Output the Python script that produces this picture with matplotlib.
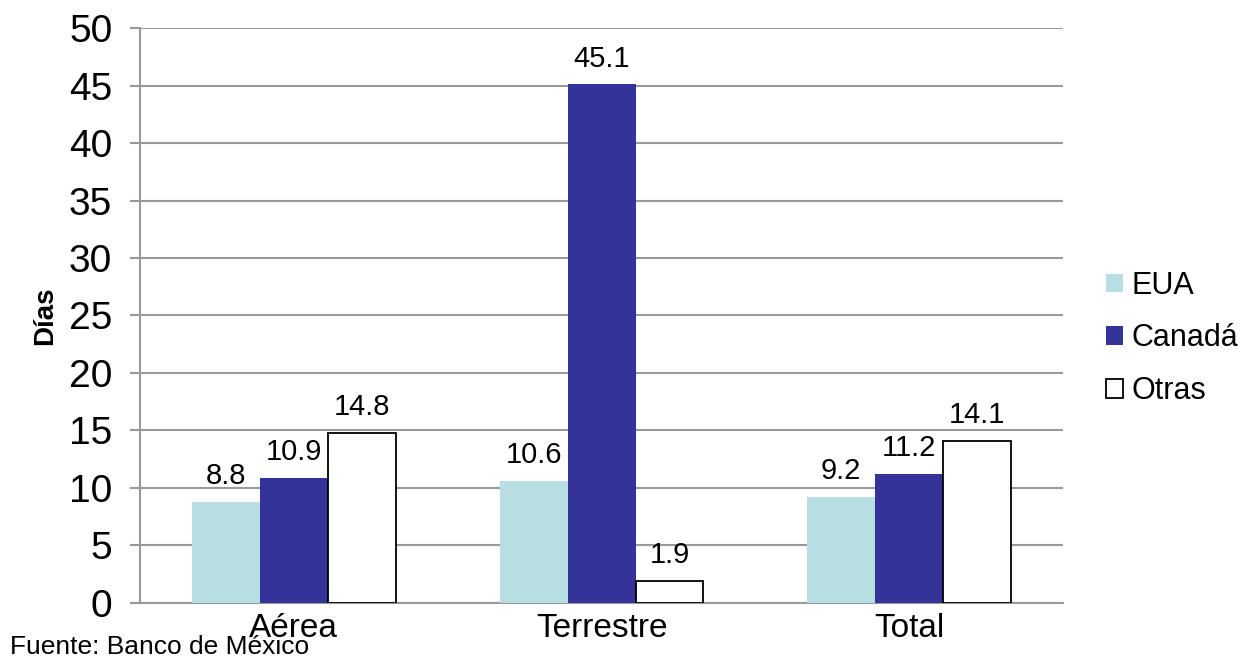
import numpy as np
import matplotlib.pyplot as plt

plt.rcParams['font.family'] = ['Liberation Sans', 'DejaVu Sans']

categorias = ["Aérea", "Terrestre", "Total"]
eua    = [8.8, 10.6, 9.2]
canada = [10.9, 45.1, 11.2]
otras  = [14.8, 1.9, 14.1]

GRID_COLOR = "#999999"

fig = plt.figure(figsize=(12.46, 6.64), dpi=100)
ax = fig.add_axes([0.1124, 0.0919, 0.7407, 0.8659])

x = np.arange(len(categorias))
w = 0.221

b1 = ax.bar(x - w, eua, w, color="#B7DFE3", label="EUA", zorder=3)
b2 = ax.bar(x, canada, w, color="#333399", label="Canadá", zorder=3)
b3 = ax.bar(x + w, otras, w, color="white", edgecolor="black", linewidth=1.3,
            label="Otras", zorder=3)

for bars in (b1, b2, b3):
    for b in bars:
        ax.text(b.get_x() + b.get_width() / 2, b.get_height() + 1.55,
                f"{b.get_height():.1f}", ha="center", va="baseline", fontsize=21)

ax.set_xlim(-0.5, 2.5)
ax.set_ylim(0, 50)
ax.set_yticks(range(0, 51, 5))
ax.yaxis.grid(True, color=GRID_COLOR, linewidth=1.5, zorder=0)
ax.set_axisbelow(True)

for s in ("top", "right"):
    ax.spines[s].set_visible(False)
ax.spines["left"].set_color(GRID_COLOR)
ax.spines["left"].set_linewidth(1.5)
ax.spines["bottom"].set_color(GRID_COLOR)
ax.spines["bottom"].set_linewidth(1.5)

ax.set_xticks(x)
ax.set_xticklabels(categorias, fontsize=24)
ax.tick_params(axis="x", length=0, pad=7)
ax.tick_params(axis="y", labelsize=28, length=7, width=1.5, color=GRID_COLOR, pad=13)

ax.set_ylabel("Días", fontsize=20, fontweight="bold", labelpad=8)

ax.legend(loc="center left", bbox_to_anchor=(1.03, 0.46), frameon=False,
          fontsize=22, handlelength=0.55, handleheight=0.55, handletextpad=0.3,
          labelspacing=0.75, borderpad=0)

fig.text(0.008, 0.008, "Fuente: Banco de México", fontsize=19, ha="left", va="bottom")

plt.savefig("out.png", dpi=100)
